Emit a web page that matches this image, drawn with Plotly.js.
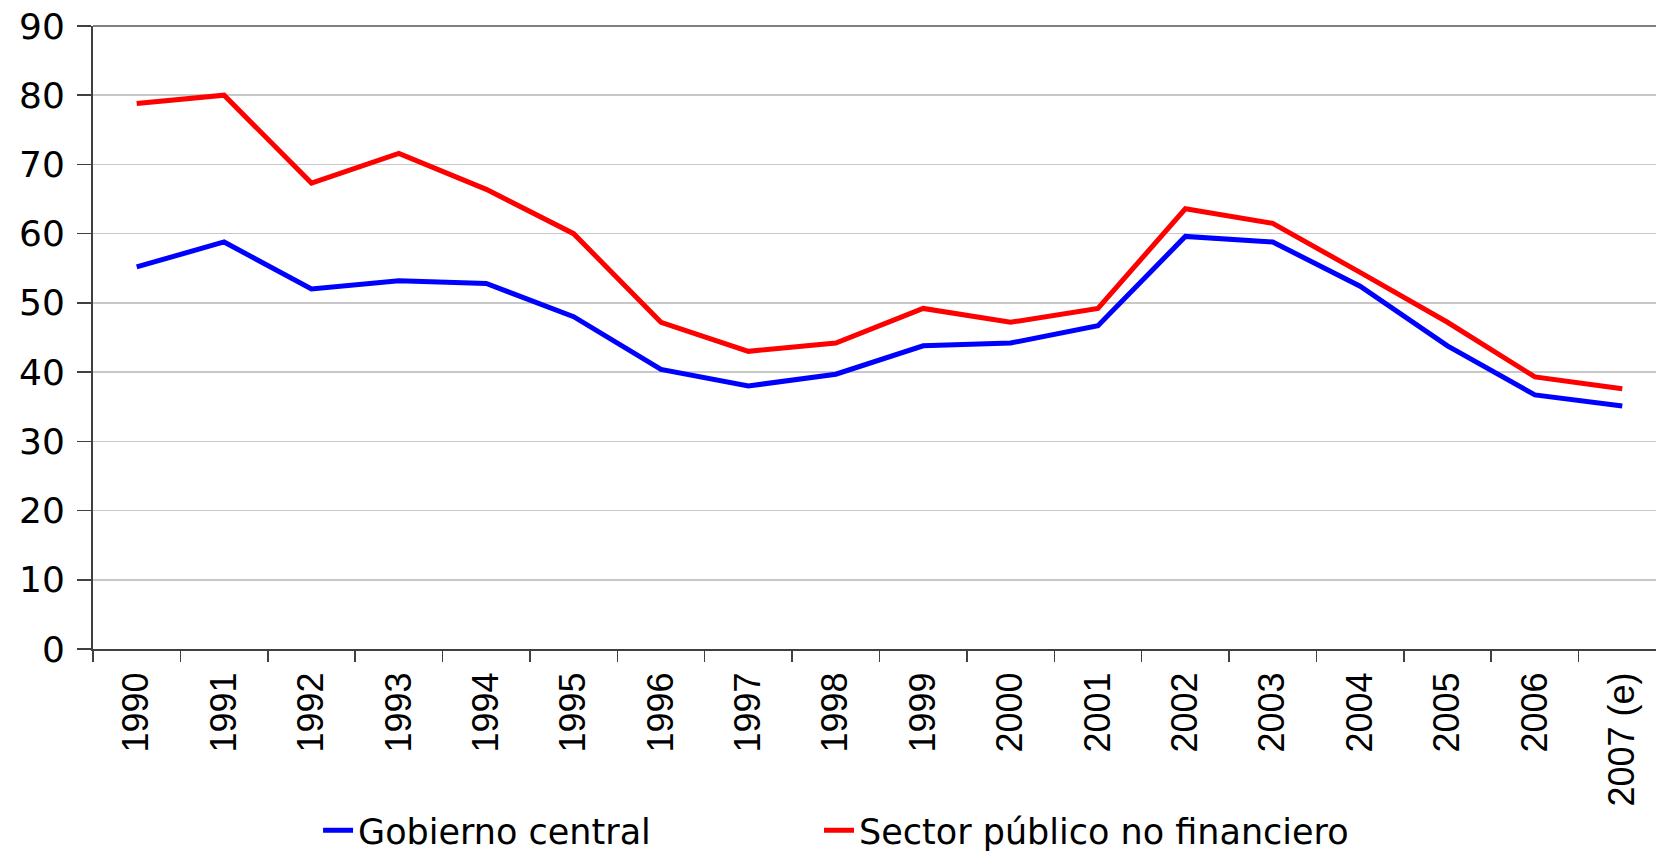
<!DOCTYPE html>
<html>
<head>
<meta charset="utf-8">
<script src="https://cdn.plot.ly/plotly-3.0.1.min.js"></script>
<style>
  html, body { margin: 0; padding: 0; background: #ffffff; }
  #chart { width: 1656px; height: 855px; }
</style>
</head>
<body>
<div id="chart"></div>
<script>
const years = ['1990','1991','1992','1993','1994','1995','1996','1997','1998','1999','2000','2001','2002','2003','2004','2005','2006','2007 (e)'];
const gobiernoCentral = [55.2, 58.8, 52.0, 53.2, 52.8, 48.0, 40.4, 38.0, 39.7, 43.8, 44.2, 46.7, 59.6, 58.8, 52.4, 43.8, 36.7, 35.1];
const sectorPublico = [78.8, 80.0, 67.3, 71.6, 66.4, 60.0, 47.2, 43.0, 44.2, 49.2, 47.2, 49.2, 63.6, 61.5, 54.4, 47.2, 39.3, 37.6];
const yTicks = [0, 10, 20, 30, 40, 50, 60, 70, 80, 90];

const traces = [
  {
    type: 'scatter', mode: 'lines', name: 'Gobierno central',
    x: years, y: gobiernoCentral, legend: 'legend',
    line: { color: '#0000ff', width: 5 }
  },
  {
    type: 'scatter', mode: 'lines', name: 'Sector público no financiero',
    x: years, y: sectorPublico, legend: 'legend2',
    line: { color: '#ff0000', width: 5 }
  }
];

const legendFont = { family: 'DejaVu Sans', size: 35, color: '#000000' };

const layout = {
  width: 1656, height: 855,
  paper_bgcolor: '#ffffff', plot_bgcolor: '#ffffff',
  margin: { l: 93, r: 0, t: 26, b: 206, autoexpand: false },
  showlegend: true,
  legend: {
    orientation: 'h', x: 0.144, xanchor: 'left', y: -0.244, yanchor: 'top',
    font: legendFont, bgcolor: 'rgba(0,0,0,0)'
  },
  legend2: {
    orientation: 'h', x: 0.4645, xanchor: 'left', y: -0.244, yanchor: 'top',
    font: legendFont, bgcolor: 'rgba(0,0,0,0)'
  },
  xaxis: {
    type: 'category',
    range: [-0.5, 17.386],
    tickson: 'boundaries',
    ticks: 'outside', ticklen: 11, tickwidth: 1.5, tickcolor: '#404040',
    tickangle: -90, ticklabelstandoff: 7,
    tickfont: { family: 'Liberation Sans, Arial, sans-serif', size: 36, color: '#000000' },
    showline: true, linecolor: '#404040', linewidth: 2,
    showgrid: false, zeroline: false, fixedrange: true, automargin: false
  },
  yaxis: {
    range: [0, 90],
    tickvals: yTicks,
    ticks: 'outside', ticklen: 14, tickwidth: 1.5, tickcolor: '#404040',
    ticklabelstandoff: 5,
    tickfont: { family: 'DejaVu Sans', size: 36, color: '#000000' },
    showline: true, linecolor: '#404040', linewidth: 2,
    showgrid: true, gridcolor: '#c8c8c8', gridwidth: 1.5,
    zeroline: false, fixedrange: true, automargin: false
  },
  shapes: [
    { type: 'line', xref: 'paper', yref: 'paper', x0: 0, x1: 1, y0: 1, y1: 1,
      line: { color: '#808080', width: 2 } }
  ]
};

Plotly.newPlot('chart', traces, layout, { displayModeBar: false, staticPlot: true });
</script>
</body>
</html>
